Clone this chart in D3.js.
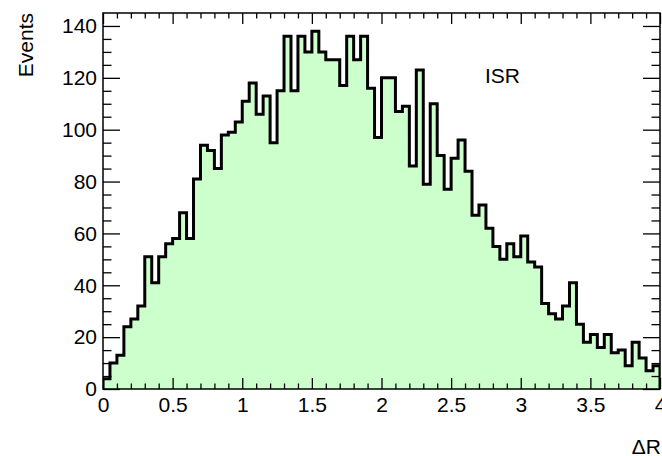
<!DOCTYPE html>
<html>
<head>
<meta charset="utf-8">
<script src="https://cdn.jsdelivr.net/npm/d3@7"></script>
<style>
  html, body { margin: 0; padding: 0; background: #fff; }
  svg { display: block; font-family: "Liberation Sans", Arial, Helvetica, sans-serif; }
</style>
</head>
<body>
<svg id="chart" width="662" height="456"></svg>
<script>
// ΔR distribution, 80 bins of width 0.05 from 0 to 4
const binLow = 0;
const binWidth = 0.05;
const counts = [
  4, 10, 13, 24, 27, 32, 51, 41, 51, 56,
  58, 68, 58, 81, 94, 92, 85, 98, 99, 103,
  111, 118, 106, 113, 95, 115, 136, 115, 136, 130,
  138, 130, 127, 127, 117, 136, 127, 136, 116, 97,
  120, 120, 107, 109, 86, 123, 79, 110, 90, 77,
  89, 96, 84, 67, 71, 62, 55, 50, 56, 51,
  59, 49, 47, 33, 29, 27, 32, 41, 25, 18,
  21, 16, 21, 14, 15, 9, 18, 12, 7, 9
];
const xTickValues = [0, 0.5, 1, 1.5, 2, 2.5, 3, 3.5, 4];
const xTickLabels = ["0", "0.5", "1", "1.5", "2", "2.5", "3", "3.5", "4"];
const yTickValues = [0, 20, 40, 60, 80, 100, 120, 140];
const yTickLabels = ["0", "20", "40", "60", "80", "100", "120", "140"];
const xTitle = "ΔR";
const yTitle = "Events";
const plotLabel = "ISR";

const frame = { left: 103, right: 660, top: 13, bottom: 389 };
const svg = d3.select("#chart");

const x = d3.scaleLinear().domain([0, 4]).range([frame.left, frame.right]);
const y = d3.scaleLinear().domain([0, 145]).range([frame.bottom, frame.top]);

// step points: lower edge of every bin, plus the upper edge of the last one
const steps = counts.map((c, i) => ({ e: binLow + i * binWidth, v: c }));
steps.push({ e: binLow + counts.length * binWidth, v: counts[counts.length - 1] });

svg.append("defs").append("clipPath").attr("id", "frameClip")
  .append("rect")
  .attr("x", frame.left).attr("y", frame.top)
  .attr("width", frame.right - frame.left).attr("height", frame.bottom - frame.top);

const plot = svg.append("g").attr("clip-path", "url(#frameClip)");

const area = d3.area()
  .x(d => x(d.e)).y0(y(0)).y1(d => y(d.v))
  .curve(d3.curveStepAfter);

plot.append("path")
  .datum(steps)
  .attr("d", area)
  .attr("fill", "#ccffcc");

const outline = [{ e: 0, v: 0 }, ...steps, { e: 4, v: 0 }];
const line = d3.line()
  .x(d => x(d.e)).y(d => y(d.v))
  .curve(d3.curveStepAfter);

plot.append("path")
  .datum(outline)
  .attr("d", line)
  .attr("fill", "none")
  .attr("stroke", "#000")
  .attr("stroke-width", 3)
  .attr("stroke-linejoin", "miter");

// axes: ticks pointing into the frame on all four sides
const xMinor = d3.range(0, 4.0001, 0.1).filter(v => Math.abs(v * 2 - Math.round(v * 2)) > 1e-6);
const yMinor = d3.range(0, 145, 5).filter(v => v % 20 !== 0);
const xLen = 11, yLen = 17;

function styleAxis(g) {
  g.select(".domain").remove();
  g.selectAll(".tick line").attr("stroke", "#000").attr("stroke-width", 1.3);
  g.selectAll("text").attr("fill", "#000").style("font-size", "21px")
    .style("font-family", '"Liberation Sans", Arial, Helvetica, sans-serif');
}

// bottom
svg.append("g").attr("transform", `translate(0,${frame.bottom})`)
  .call(d3.axisBottom(x).tickValues(xMinor).tickSize(-xLen / 2).tickFormat(""))
  .call(styleAxis);
svg.append("g").attr("transform", `translate(0,${frame.bottom})`)
  .call(d3.axisBottom(x).tickValues(xTickValues).tickSize(-xLen).tickPadding(8)
    .tickFormat((d, i) => xTickLabels[i]))
  .call(styleAxis)
  .call(g => g.selectAll("text").attr("dy", null).attr("y", 23));

// top
svg.append("g").attr("transform", `translate(0,${frame.top})`)
  .call(d3.axisTop(x).tickValues(xMinor).tickSize(-xLen / 2).tickFormat(""))
  .call(styleAxis);
svg.append("g").attr("transform", `translate(0,${frame.top})`)
  .call(d3.axisTop(x).tickValues(xTickValues).tickSize(-xLen).tickFormat(""))
  .call(styleAxis);

// left
svg.append("g").attr("transform", `translate(${frame.left},0)`)
  .call(d3.axisLeft(y).tickValues(yMinor).tickSize(-yLen / 2).tickFormat(""))
  .call(styleAxis);
svg.append("g").attr("transform", `translate(${frame.left},0)`)
  .call(d3.axisLeft(y).tickValues(yTickValues).tickSize(-yLen).tickPadding(6)
    .tickFormat((d, i) => yTickLabels[i]))
  .call(styleAxis);

// right
svg.append("g").attr("transform", `translate(${frame.right},0)`)
  .call(d3.axisRight(y).tickValues(yMinor).tickSize(-yLen / 2).tickFormat(""))
  .call(styleAxis);
svg.append("g").attr("transform", `translate(${frame.right},0)`)
  .call(d3.axisRight(y).tickValues(yTickValues).tickSize(-yLen).tickFormat(""))
  .call(styleAxis);

// frame
svg.append("rect")
  .attr("x", frame.left).attr("y", frame.top)
  .attr("width", frame.right - frame.left).attr("height", frame.bottom - frame.top)
  .attr("fill", "none").attr("stroke", "#000").attr("stroke-width", 1.5);

// titles
svg.append("text")
  .attr("transform", `translate(33,${frame.top}) rotate(-90)`)
  .attr("text-anchor", "end")
  .style("font-size", "21px")
  .text(yTitle);

svg.append("text")
  .attr("x", 661).attr("y", 454)
  .attr("text-anchor", "end")
  .style("font-size", "21px")
  .text(xTitle);

svg.append("text")
  .attr("x", 485).attr("y", 83)
  .style("font-size", "21px")
  .text(plotLabel);
</script>
</body>
</html>
